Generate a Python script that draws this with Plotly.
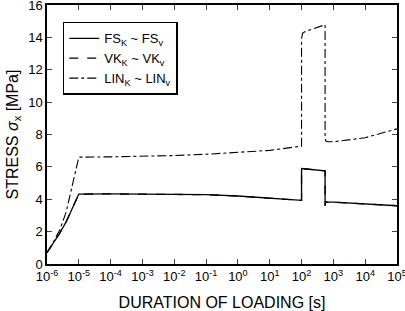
import plotly.graph_objects as go

# log10 of duration [s]
fs_logt = [-6, -5.8, -5.6, -5.4, -5.2, -5.0, -4, -3, -2, -1, 0, 1, 2.0, 2.0, 2.74, 2.74, 2.745, 3, 4, 5]
fs_val = [0.7, 1.3, 1.9, 2.6, 3.45, 4.32, 4.33, 4.32, 4.3, 4.28, 4.2, 4.08, 3.93, 5.9, 5.75, 3.6, 3.83, 3.82, 3.73, 3.6]

vk_logt = fs_logt
vk_val = fs_val

lin_logt = [-6, -5.8, -5.6, -5.4, -5.2, -5.0, -4, -3, -2, -1, 0, 1, 2.0, 2.0, 2.03, 2.1, 2.74, 2.74, 2.77, 2.85, 3, 4, 5]
lin_val = [0.7, 1.35, 2.1, 3.2, 4.9, 6.6, 6.62, 6.65, 6.7, 6.78, 6.88, 7.02, 7.28, 13.9, 14.25, 14.35, 14.78, 7.75, 7.58, 7.55, 7.55, 7.8, 8.35]

xtick_vals = [10 ** k for k in range(-6, 6)]
xtick_text = [f"10<sup>{k}</sup>" for k in range(-6, 6)]
ytick_vals = list(range(0, 17, 2))

fig = go.Figure()
fig.add_trace(go.Scatter(x=[10 ** v for v in vk_logt], y=vk_val, mode="lines",
                         name="VK<sub>K</sub> ~ VK<sub>v</sub>", legendrank=2,
                         line=dict(color="black", width=1.3, dash="dash")))
fig.add_trace(go.Scatter(x=[10 ** v for v in fs_logt], y=fs_val, mode="lines",
                         name="FS<sub>K</sub> ~ FS<sub>v</sub>", legendrank=1,
                         line=dict(color="black", width=1.3, dash="solid")))
fig.add_trace(go.Scatter(x=[10 ** v for v in lin_logt], y=lin_val, mode="lines",
                         name="LIN<sub>K</sub> ~ LIN<sub>v</sub>", legendrank=3,
                         line=dict(color="black", width=1.1, dash="dashdot")))

font = "Liberation Sans, Arial, sans-serif"
fig.update_layout(
    width=405, height=311,
    margin=dict(l=47, r=8, t=5, b=47),
    paper_bgcolor="white", plot_bgcolor="white",
    font=dict(family=font, size=13, color="black"),
    legend=dict(x=0.045, y=0.935, xanchor="left", yanchor="top",
                bordercolor="black", borderwidth=1.5, bgcolor="white",
                font=dict(size=13), tracegroupgap=0, itemwidth=30),
    showlegend=True,
)
fig.update_xaxes(type="log", range=[-6, 5], tickvals=xtick_vals, ticktext=xtick_text,
                 ticks="inside", ticklen=5, tickwidth=1, mirror="ticks",
                 showline=True, linecolor="black", linewidth=1.5, showgrid=False,
                 zeroline=False, automargin=False, ticklabeloverflow="allow",
                 title=dict(text="DURATION OF LOADING [s]", standoff=13),
                 tickfont=dict(size=13))
fig.update_yaxes(range=[0, 16], tickvals=ytick_vals, ticks="inside", ticklen=5, tickwidth=1,
                 mirror="ticks", showline=True, linecolor="black", linewidth=1.5,
                 showgrid=False, zeroline=False, automargin=False, ticklabeloverflow="allow",
                 title=dict(text="STRESS <i>σ</i><sub>x</sub> [MPa]", standoff=6),
                 tickfont=dict(size=13))

fig.write_html("out.html", config={"displayModeBar": False},
               post_script="document.body.style.margin='0';")
